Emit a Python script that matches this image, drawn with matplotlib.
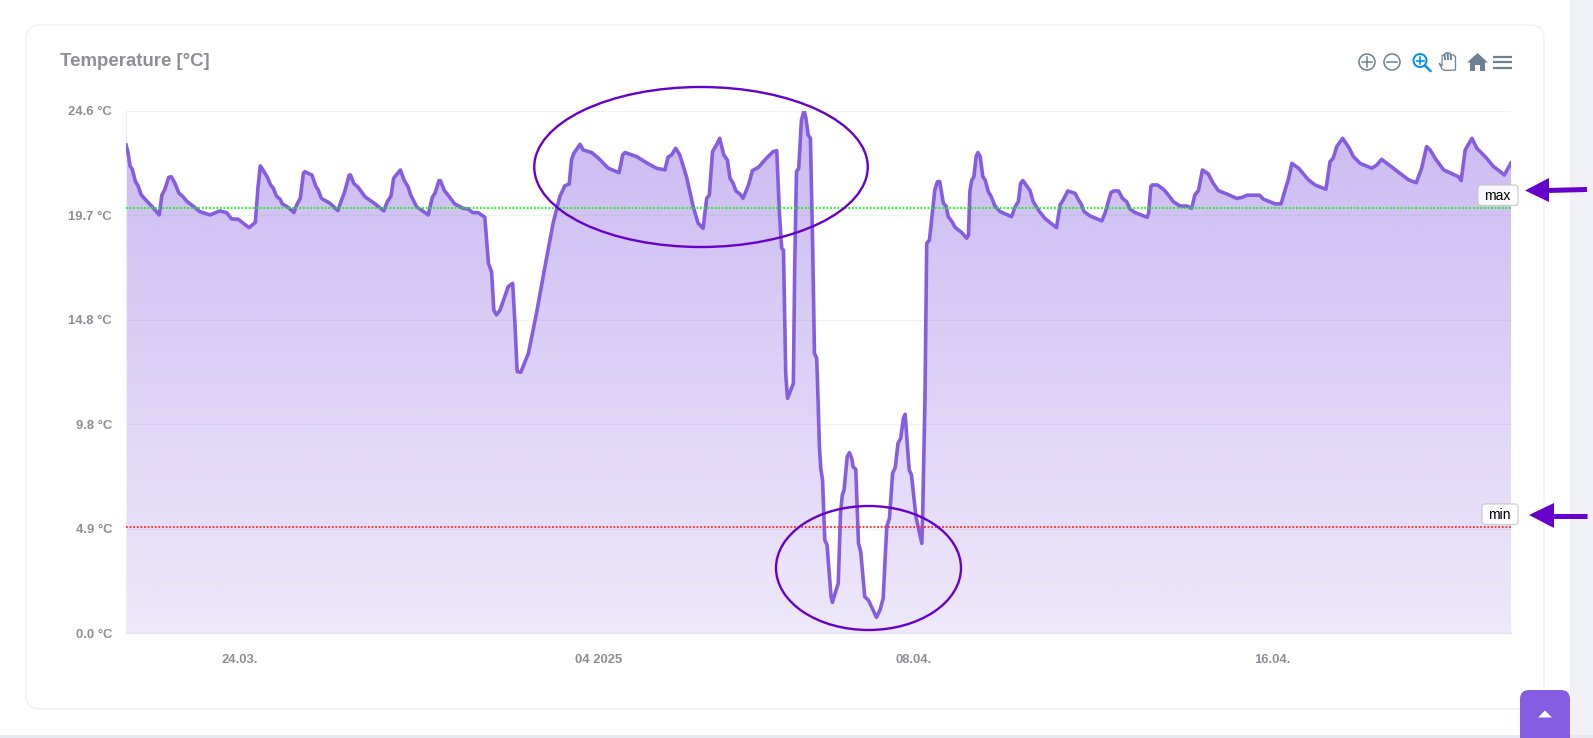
import numpy as np
import matplotlib
matplotlib.use('Agg')
import matplotlib.pyplot as plt
from matplotlib.colors import to_rgb
from matplotlib.patches import Circle, Ellipse, FancyBboxPatch, Polygon, Rectangle

plt.rcParams['font.family'] = ['Liberation Sans', 'DejaVu Sans']

# Days relative to 1 April 2025 and temperature in deg C
days = [
    -10.53, -10.49, -10.44, -10.39, -10.32, -10.26, -10.19, -10.07, -9.96, -9.79,
    -9.73, -9.67, -9.58, -9.52, -9.44, -9.35, -9.26, -9.17, -9.00, -8.89,
    -8.66, -8.44, -8.29, -8.18, -8.03, -7.92, -7.79, -7.65, -7.59, -7.54,
    -7.48, -7.38, -7.31, -7.25, -7.18, -7.10, -7.05, -6.92, -6.79, -6.73,
    -6.65, -6.58, -6.55, -6.39, -6.30, -6.25, -6.18, -5.99, -5.81, -5.73,
    -5.66, -5.56, -5.53, -5.46, -5.36, -5.21, -4.95, -4.79, -4.71, -4.63,
    -4.57, -4.42, -4.34, -4.25, -4.19, -4.06, -3.80, -3.71, -3.65, -3.56,
    -3.53, -3.44, -3.36, -3.21, -3.02, -2.91, -2.81, -2.69, -2.54, -2.46,
    -2.39, -2.34, -2.28, -2.20, -2.02, -1.92, -1.87, -1.82, -1.74, -1.57,
    -1.39, -1.20, -1.02, -0.87, -0.76, -0.66, -0.61, -0.56, -0.48, -0.42,
    -0.35, -0.16, -0.01, 0.21, 0.45, 0.53, 0.58, 0.84, 1.06, 1.28,
    1.47, 1.54, 1.62, 1.71, 1.80, 1.95, 2.10, 2.21, 2.32, 2.40,
    2.46, 2.53, 2.62, 2.69, 2.78, 2.86, 2.92, 2.99, 3.05, 3.14,
    3.21, 3.33, 3.42, 3.55, 3.73, 3.88, 3.96, 4.02, 4.07, 4.11,
    4.16, 4.20, 4.33, 4.36, 4.40, 4.45, 4.51, 4.57, 4.61, 4.66,
    4.71, 4.76, 4.80, 4.85, 4.88, 4.91, 4.94, 4.98, 5.03, 5.08,
    5.17, 5.20, 5.26, 5.33, 5.38, 5.42, 5.46, 5.53, 5.58, 5.63,
    5.66, 5.72, 5.78, 5.83, 5.92, 6.00, 6.18, 6.26, 6.33, 6.41,
    6.47, 6.54, 6.60, 6.66, 6.72, 6.78, 6.82, 6.87, 6.91, 6.96,
    7.06, 7.14, 7.19, 7.21, 7.26, 7.30, 7.36, 7.48, 7.54, 7.59,
    7.67, 7.73, 7.78, 7.86, 7.93, 8.08, 8.19, 8.23, 8.26, 8.30,
    8.35, 8.40, 8.44, 8.49, 8.55, 8.60, 8.67, 8.73, 8.82, 8.93,
    9.19, 9.27, 9.34, 9.39, 9.44, 9.51, 9.60, 9.67, 9.75, 9.81,
    9.93, 10.19, 10.27, 10.34, 10.44, 10.60, 10.68, 10.75, 10.80, 10.94,
    11.20, 11.27, 11.40, 11.46, 11.57, 11.66, 11.75, 11.83, 11.94, 12.21,
    12.24, 12.29, 12.32, 12.44, 12.57, 12.68, 12.79, 12.94, 13.09, 13.20,
    13.27, 13.35, 13.44, 13.57, 13.68, 13.79, 13.98, 14.20, 14.31, 14.43,
    14.71, 14.80, 15.06, 15.19, 15.30, 15.35, 15.43, 15.58, 15.80, 15.95,
    16.19, 16.28, 16.35, 16.43, 16.56, 16.71, 16.80, 16.95, 17.21, 17.32,
    17.43, 17.69, 18.03, 18.20, 18.32, 18.43, 18.51, 18.62, 18.81, 19.14,
    19.20, 19.29, 19.44, 19.55, 19.75, 19.92, 20.07, 20.16, 20.31,
]
temps = [
    22.99, 22.67, 22.00, 21.84, 21.26, 21.06, 20.63, 20.35, 20.11, 19.69,
    20.63, 20.87, 21.46, 21.49, 21.18, 20.71, 20.55, 20.32, 20.05, 19.85,
    19.69, 19.88, 19.80, 19.50, 19.49, 19.30, 19.09, 19.34, 21.02, 22.00,
    21.81, 21.46, 21.10, 20.95, 20.58, 20.43, 20.21, 20.05, 19.80, 20.16,
    20.47, 21.65, 21.73, 21.57, 21.02, 20.87, 20.47, 20.24, 19.89, 20.40,
    20.79, 21.57, 21.57, 21.18, 20.99, 20.55, 20.16, 19.88, 20.32, 20.58,
    21.42, 21.81, 21.34, 21.02, 20.63, 20.08, 19.69, 20.52, 20.71, 21.31,
    21.31, 20.84, 20.63, 20.21, 20.00, 19.97, 19.80, 19.80, 19.58, 17.41,
    17.02, 15.21, 14.98, 15.21, 16.31, 16.47, 14.59, 12.31, 12.28, 13.17,
    15.06, 17.26, 19.30, 20.55, 21.06, 21.15, 22.28, 22.59, 22.83, 23.02,
    22.75, 22.63, 22.36, 21.89, 21.68, 22.52, 22.63, 22.44, 22.15, 21.89,
    21.81, 22.41, 22.52, 22.83, 22.52, 21.49, 20.08, 19.30, 19.06, 20.47,
    20.63, 22.67, 22.99, 23.30, 22.52, 22.28, 21.42, 21.18, 20.82, 20.68,
    20.47, 21.10, 21.78, 21.93, 22.36, 22.67, 22.72, 19.77, 18.12, 18.04,
    12.23, 11.05, 11.76, 17.26, 21.73, 21.89, 24.16, 24.60, 24.24, 23.46,
    23.30, 18.20, 13.17, 12.94, 10.97, 8.78, 7.76, 7.21, 4.38, 4.15,
    1.71, 1.44, 1.87, 2.34, 5.64, 6.50, 6.74, 8.31, 8.49, 8.23,
    7.83, 7.71, 4.22, 3.83, 1.71, 1.55, 0.74, 1.08, 1.63, 5.01,
    5.40, 7.52, 7.80, 8.93, 9.17, 10.11, 10.30, 8.78, 7.68, 7.44,
    5.48, 4.69, 4.22, 5.64, 10.97, 18.35, 18.51, 20.87, 21.26, 21.26,
    20.24, 20.11, 19.61, 19.38, 19.11, 18.86, 18.59, 18.75, 20.79, 21.31,
    21.49, 22.44, 22.63, 22.44, 21.49, 21.34, 20.79, 20.58, 20.11, 19.85,
    19.61, 20.08, 20.32, 21.18, 21.31, 21.10, 20.84, 20.32, 20.05, 19.85,
    19.53, 19.09, 20.16, 20.40, 20.82, 20.71, 20.40, 20.16, 19.85, 19.64,
    19.41, 19.77, 20.74, 20.82, 20.82, 20.47, 20.32, 19.96, 19.80, 19.58,
    19.77, 21.02, 21.10, 21.10, 20.90, 20.63, 20.32, 20.11, 20.11, 20.00,
    20.63, 20.84, 21.81, 21.62, 21.18, 20.84, 20.68, 20.47, 20.51, 20.62,
    20.62, 20.43, 20.21, 20.21, 21.02, 21.34, 22.12, 21.89, 21.34, 21.10,
    20.90, 22.20, 22.36, 22.91, 23.30, 22.83, 22.44, 22.12, 21.89, 22.04,
    22.31, 21.89, 21.34, 21.21, 21.89, 22.91, 22.75, 22.36, 21.81, 21.49,
    21.31, 22.75, 23.30, 22.83, 22.40, 21.97, 21.73, 21.57, 22.14,
]
x_ticks = [-8, 0, 7, 15]
x_labels = ['24.03.', '04 2025', '08.04.', '16.04.']
y_ticks = [0.0, 4.92, 9.84, 14.76, 19.68, 24.6]
y_labels = ['0.0 °C', '4.9 °C', '9.8 °C', '14.8 °C', '19.7 °C', '24.6 °C']
max_limit = 20.0
min_limit = 5.0

W, H = 1593, 738
LINE = '#865DE0'
MARK = '#6600CC'
GREY = '#8E8E98'
ICON = '#6E8192'

fig = plt.figure(figsize=(W / 100, H / 100), dpi=100, facecolor='white')

# Page behind the chart, in pixel coordinates
back = fig.add_axes([0, 0, 1, 1], zorder=0)
back.set_xlim(0, W)
back.set_ylim(H, 0)
back.axis('off')
back.add_patch(Rectangle((1570, 0), 23, H, fc='#F0F1F7', ec='none'))
back.add_patch(Rectangle((0, 735), W, 3, fc='#E8E9F0', ec='none'))
back.add_patch(FancyBboxPatch((36, 35), 1498, 664, boxstyle='round,pad=10,rounding_size=14',
                              fc='white', ec='#EFEFF2', lw=0.9))

# Chart
px_left, px_right, px_top, px_bottom = 126, 1511, 110.7, 633
ax = fig.add_axes([px_left / W, 1 - px_bottom / H, (px_right - px_left) / W, (px_bottom - px_top) / H],
                  zorder=1)
ax.patch.set_alpha(0)

# Fill with vertical gradient, clipped to the area under the line
fill = ax.fill_between(days, temps, 0, facecolor='none', edgecolor='none')
grad = np.zeros((256, 1, 4))
grad[:, :, :3] = to_rgb(LINE)
grad[:, 0, 3] = np.linspace(0.43, 0.14, 256)
im = ax.imshow(grad, extent=(days[0], days[-1], 0, y_ticks[-1]), aspect='auto', origin='upper', zorder=2)
im.set_clip_path(fill.get_paths()[0], transform=ax.transData)

ax.plot(days, temps, color=LINE, lw=2.6, solid_joinstyle='round', zorder=3)
ax.axhline(max_limit, color='#00FF00', lw=1.3, ls=(0, (1, 1)), zorder=4)
ax.axhline(min_limit, color='#FF2A2A', lw=1.3, ls=(0, (1, 1)), zorder=4)

ax.set_xlim(days[0], days[-1])
ax.set_ylim(0, y_ticks[-1])
ax.set_xticks(x_ticks)
ax.set_xticklabels(x_labels)
ax.set_yticks(y_ticks)
ax.set_yticklabels(y_labels)
ax.tick_params(length=0, labelcolor=GREY, labelsize=9.4)
ax.tick_params(axis='x', pad=15)
ax.tick_params(axis='y', pad=10)
for lab in ax.get_xticklabels() + ax.get_yticklabels():
    lab.set_fontweight('bold')
ax.grid(axis='y', color='#F1F1F3', lw=0.9)
ax.set_axisbelow(True)
for side in ['top', 'right']:
    ax.spines[side].set_visible(False)
ax.spines['left'].set_color('#F0F0F3')
ax.spines['bottom'].set_color('#E6E2F2')

# Everything in front of the chart, again in pixel coordinates
top = fig.add_axes([0, 0, 1, 1], zorder=2)
top.set_xlim(0, W)
top.set_ylim(H, 0)
top.axis('off')
top.patch.set_alpha(0)

top.text(60, 62, 'Temperature [°C]', fontsize=13.4, fontweight='bold', color=GREY, va='center', ha='left')

# Threshold labels
for label, x0, y0, w, h in [('max', 1478, 185, 40, 20.5), ('min', 1482, 504, 36, 20.5)]:
    top.add_patch(FancyBboxPatch((x0 + 2, y0 + 2), w - 4, h - 4, boxstyle='round,pad=2,rounding_size=3',
                                 fc='white', ec='#C8C8C8', lw=0.9, alpha=0.9))
    top.text(x0 + w / 2 - 0.5, y0 + h / 2 + 0.5, label, fontsize=10, color='black', ha='center', va='center')

# Hand drawn marks
top.add_patch(Ellipse((701, 167), 333.5, 160, fc='none', ec=MARK, lw=1.7))
top.add_patch(Ellipse((868.5, 568), 185, 124, fc='none', ec=MARK, lw=1.7))
top.add_patch(Polygon([(1525, 190.5), (1549, 178), (1549, 202)], fc=MARK, ec='none'))
top.plot([1547, 1587], [190.5, 189.5], color=MARK, lw=3.6, solid_capstyle='butt')
top.add_patch(Polygon([(1529, 515), (1554, 503), (1554, 528)], fc=MARK, ec='none'))
top.plot([1552, 1587], [515.5, 515.5], color=MARK, lw=3.6, solid_capstyle='butt')

# Toolbar icons
top.add_patch(Circle((1367, 62), 8, fc='none', ec=ICON, lw=1.1))
top.plot([1362, 1372], [62, 62], color=ICON, lw=1.1)
top.plot([1367, 1367], [57, 67], color=ICON, lw=1.1)
top.add_patch(Circle((1392, 62), 8, fc='none', ec=ICON, lw=1.1))
top.plot([1387, 1397], [62, 62], color=ICON, lw=1.1)
top.add_patch(Circle((1420, 60.5), 6.5, fc='none', ec='#008FFB', lw=1.4))
top.plot([1416.5, 1423.5], [60.5, 60.5], color='#008FFB', lw=1.2)
top.plot([1420, 1420], [57, 64], color='#008FFB', lw=1.2)
top.plot([1425, 1430.5], [65.5, 71], color='#008FFB', lw=1.7)
hand = [(1439, 63), (1442, 66), (1442, 56), (1444, 54.5), (1445, 60), (1445, 53.5), (1447, 52.5), (1448, 60),
        (1448, 53), (1450, 53), (1451, 60), (1451, 54.5), (1453.5, 55), (1455.5, 57), (1455.5, 70),
        (1445, 70.5), (1442, 69)]
top.add_patch(Polygon(hand, closed=True, fc='white', ec=ICON, lw=0.9))
top.add_patch(Polygon([(1467, 62.5), (1477.5, 53), (1488, 62.5), (1485, 62.5), (1485, 71), (1480, 71), (1480, 65),
                       (1475, 65), (1475, 71), (1470, 71), (1470, 62.5)], fc=ICON, ec='none'))
for y in [56.5, 62, 67.5]:
    top.plot([1493, 1512], [y, y], color=ICON, lw=1.6, solid_capstyle='butt')

# Scroll to top button
top.add_patch(FancyBboxPatch((1528, 698), 34, 60, boxstyle='round,pad=8,rounding_size=9', fc=LINE, ec='none',
                             clip_on=True))
top.add_patch(Polygon([(1538, 717.5), (1545, 710.5), (1552, 717.5)], fc='white', ec='none'))

fig.savefig('out.png', dpi=100)
